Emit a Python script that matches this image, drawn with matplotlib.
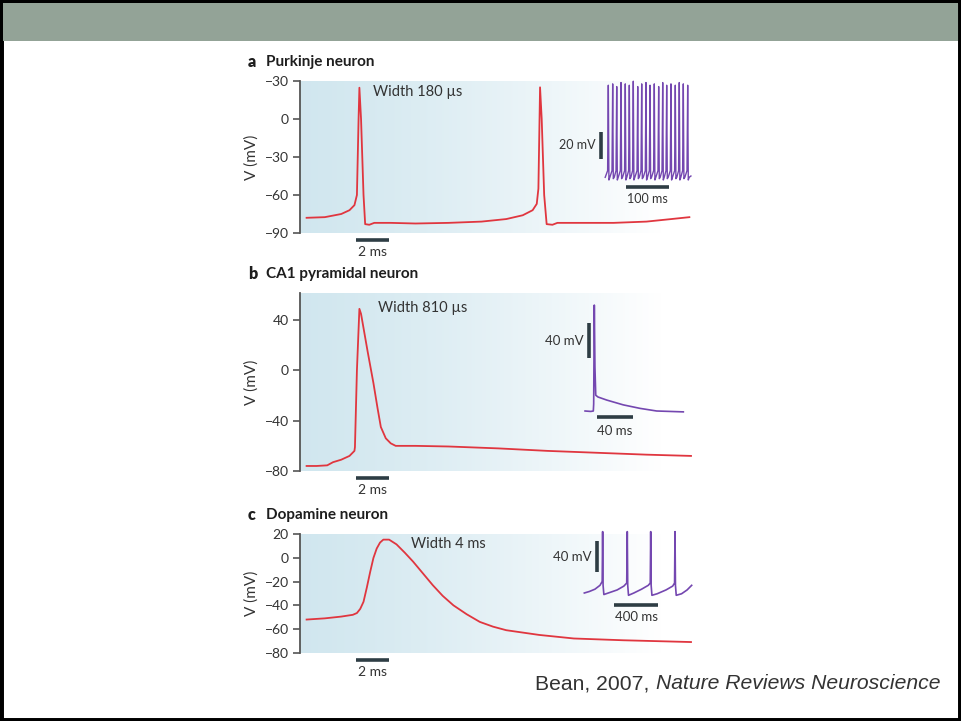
import numpy as np
import matplotlib
matplotlib.use("Agg")
import matplotlib.pyplot as plt
from matplotlib.patches import Rectangle

plt.rcParams['font.family'] = ['Lato', 'DejaVu Sans']

W, H = 961, 721
RED = '#e0363f'
PURPLE = '#7447b0'
BAR = '#2e3d44'
TXT = '#333333'

# ---- main traces (time in ms, voltage in mV) ----
purk_t = [0.4, 1.5, 2.5, 3.0, 3.3, 3.45, 3.55, 3.6, 3.7, 3.85, 3.95, 4.2, 4.5, 5.5, 7.0, 9.0,
          11.0, 12.5, 13.5, 14.1, 14.35, 14.45, 14.55, 14.65, 14.8, 14.95, 15.3, 15.6,
          17.0, 19.0, 21.0, 22.5, 23.6]
purk_v = [-78, -77.5, -75, -72, -68, -60, 0, 24.7, 0, -60, -83, -83.5, -82, -82, -82.5, -82,
          -81, -79, -76, -72, -67, -55, 25, 0, -60, -83, -83.5, -82,
          -82, -82, -81, -79, -77.5]

ca1_t = [0.4, 1.0, 1.65, 2.0, 2.5, 3.0, 3.3, 3.33, 3.45, 3.6, 3.7, 4.1, 4.45, 4.7, 4.9, 5.2,
         5.5, 5.8, 7.0, 9.0, 12.0, 15.0, 18.0, 21.0, 23.7]
ca1_v = [-76, -76, -75.5, -73, -71, -68, -64, -61, 0, 49, 45, 15, -10, -30, -45, -54,
         -58, -60, -60, -60.5, -62, -64, -65.5, -67, -68]

da_t = [0.4, 1.5, 2.5, 3.2, 3.45, 3.65, 3.85, 4.05, 4.25, 4.45, 4.65, 4.85, 5.05, 5.4, 5.85,
        6.35, 6.85, 7.45, 8.05, 8.65, 9.3, 10.1, 10.9, 11.7, 12.5, 14.5, 16.6, 19.6, 23.7]
da_v = [-52, -51, -49.5, -48, -46.5, -43, -37, -25, -12, 0, 8, 13, 15.5, 15.5, 11.5,
        4.5, -3, -13, -23, -32, -40, -47.5, -54, -58, -61, -65, -68, -69.5, -71]

# ---- inset traces ----
purk_spike_t = [19.2, 29.3, 38.6, 48.5, 58.4, 67.7, 76.9, 87.1, 96.3, 106.2, 115.5, 125.4,
                135.5, 144.8, 154.0, 163.9, 173.9, 183.1, 192.4, 202.5]
purk_spike_pk = [-2, -1, -3, 0, -1, -2, 1, -3, -1, 0, -2, -1, -3, 0, -2, -1, -2, 0, -1, -2]
purk_trough = [-73, -72, -73, -72, -73, -72, -73, -72, -72, -73, -72, -73, -72, -73, -72,
               -73, -72, -73, -72, -73]

ca1_in_t = [5.6, 12, 14.8, 15.2, 15.9, 16.6, 17.5, 20, 29.7, 48.1, 66.7, 85.2, 100, 114.8]
ca1_in_v = [-70, -70.5, -70, -62, 51, -20, -52, -54, -57.5, -63, -67, -70, -70.5, -71]

da_in_t = [84, 130, 180, 225, 245, 249, 253, 260, 300, 380, 440, 466, 471, 475, 482, 530,
           600, 660, 678, 682, 686, 693, 740, 820, 880, 897, 901, 905, 912, 960, 1010, 1051]
da_in_v = [-60, -58, -55, -50, -45, 20, -50, -62, -60, -56, -51, -47, 20, -50, -63, -60,
           -55, -50, -47, 20, -50, -63, -61, -56, -51, -47, 20, -50, -63, -61, -56, -50]

yticks_a = [30, 0, -30, -60, -90]
ytlabels_a = ['\u221230', '0', '\u221230', '\u221260', '\u221290']
yticks_b = [40, 0, -40, -80]
yticks_c = [20, 0, -20, -40, -60, -80]


def rect(l, t, r, b):
    return [l / W, 1 - b / H, (r - l) / W, (b - t) / H]


def gradient(ax):
    cols = np.linspace(0, 1, 256)
    c0 = np.array([0.82, 0.905, 0.937])
    w = np.clip(cols / 0.92, 0, 1) ** 1.3
    img = c0[None, :] * (1 - w[:, None]) + np.ones(3)[None, :] * w[:, None]
    ax.imshow(img[None, :, :], extent=[0, 1, 0, 1], transform=ax.transAxes,
              aspect='auto', zorder=0, interpolation='bilinear')


def main_axes(top, bottom, ylim, yticks, ylabels):
    ax = fig.add_axes(rect(300, top, 692, bottom))
    gradient(ax)
    ax.set_xlim(0, 23.76)
    ax.set_ylim(*ylim)
    for s in ['top', 'right', 'bottom']:
        ax.spines[s].set_visible(False)
    ax.spines['left'].set_color('#555555')
    ax.spines['left'].set_linewidth(1.3)
    ax.set_xticks([])
    ax.set_yticks(yticks)
    ax.set_yticklabels(ylabels)
    ax.tick_params(axis='y', length=5, width=1.2, color='#555555', labelsize=10,
                   labelcolor=TXT, pad=3)
    ax.set_ylabel('V (mV)', fontsize=11, color=TXT)
    ax.yaxis.set_label_coords(-0.105, 0.5)
    # 2 ms scale bar below the axes
    yb = ylim[0] - (ylim[1] - ylim[0]) * 7 / (bottom - top)
    yt = ylim[0] - (ylim[1] - ylim[0]) * 19 / (bottom - top)
    ax.plot([3.4, 5.4], [yb, yb], color=BAR, lw=2.6, clip_on=False, solid_capstyle='butt')
    ax.text(4.4, yt, '2 ms', ha='center', va='center', fontsize=10, color=TXT)
    return ax


def inset_axes(l, t, r, b, xlim, ylim):
    ax = fig.add_axes(rect(l, t, r, b))
    ax.set_xlim(*xlim)
    ax.set_ylim(*ylim)
    ax.axis('off')
    ax.patch.set_alpha(0)
    return ax


def panel_title(y, letter, title):
    fig.text(248 / W, 1 - y / H, letter, fontsize=11.5, fontweight='heavy', color='#1e1e1e',
             va='center')
    fig.text(266 / W, 1 - y / H, title, fontsize=11, fontweight='bold', color='#1e1e1e',
             va='center')


fig = plt.figure(figsize=(W / 100, H / 100), dpi=100)

# slide frame and header band
fig.patches.append(Rectangle((0, 0), 1, 1, transform=fig.transFigure, facecolor='white',
                             edgecolor='black', linewidth=5, zorder=-10))
fig.patches.append(Rectangle((3 / W, 1 - 41 / H), 1 - 6 / W, 38 / H, transform=fig.transFigure,
                             facecolor='#93a397', edgecolor='none', zorder=-9))

# ---- panel a ----
ax_a = main_axes(81, 233, (-90, 30), yticks_a, ytlabels_a)
ax_a.plot(purk_t, purk_v, color=RED, lw=1.3, zorder=3)
ax_a.text(4.4, 21, 'Width 180 \u00b5s', fontsize=10.5, color=TXT, va='center')
panel_title(62, 'a', 'Purkinje neuron')

ins_a = inset_axes(600, 78, 695, 193, (0, 95 / 0.433), (-70 - 17 / 1.335, -70 + 98 / 1.335))
ta, va = [12.0], [-71.0]
for t, pk, tr in zip(purk_spike_t, purk_spike_pk, purk_trough):
    ta += [t - 1.6, t, t + 1.4, t + 3.5]
    va += [-66, pk, tr, -71]
ta.append(210)
va.append(-70)
ins_a.plot(ta, va, color=PURPLE, lw=1.0)
ins_a.plot([2.3, 2.3], [-57, -37], color=BAR, lw=2.6, clip_on=False, solid_capstyle='butt')
ins_a.text(-9.5, -47, '20 mV', ha='right', va='center', fontsize=9, color=TXT)
ins_a.plot([59.4, 159.4], [-78.2, -78.2], color=BAR, lw=2.6, clip_on=False, solid_capstyle='butt')
ins_a.text(109.4, -87.5, '100 ms', ha='center', va='center', fontsize=9, color=TXT)

# ---- panel b ----
ax_b = main_axes(293, 471, (-80, 61.6), yticks_b, ['40', '0', '\u221240', '\u221280'])
ax_b.plot(ca1_t, ca1_v, color=RED, lw=1.3, zorder=3)
ax_b.text(4.7, 50, 'Width 810 \u00b5s', fontsize=10.5, color=TXT, va='center')
panel_title(274, 'b', 'CA1 pyramidal neuron')

ins_b = inset_axes(580, 295, 692, 425, (0, 112 / 0.9), (-70 - 14 / 0.875, -70 + 116 / 0.875))
ins_b.plot(ca1_in_t, ca1_in_v, color=PURPLE, lw=1.2)
ins_b.plot([10.3, 10.3], [-10, 30], color=BAR, lw=2.6, clip_on=False, solid_capstyle='butt')
ins_b.text(4.5, 10, '40 mV', ha='right', va='center', fontsize=9.5, color=TXT)
ins_b.plot([18.5, 58.5], [-76.5, -76.5], color=BAR, lw=2.6, clip_on=False, solid_capstyle='butt')
ins_b.text(38.5, -93, '40 ms', ha='center', va='center', fontsize=9.5, color=TXT)

# ---- panel c ----
ax_c = main_axes(534.3, 652.7, (-80, 20), yticks_c,
                 ['20', '0', '\u221220', '\u221240', '\u221260', '\u221280'])
ax_c.plot(da_t, da_v, color=RED, lw=1.3, zorder=3)
ax_c.text(6.75, 12, 'Width 4 ms', fontsize=10.5, color=TXT, va='center')
panel_title(515, 'c', 'Dopamine neuron')

ins_c = inset_axes(575, 525, 692, 615, (0, 117 / 0.111), (-60 - 22 / 0.767, -60 + 68 / 0.767))
ins_c.plot(da_in_t, da_in_v, color=PURPLE, lw=1.2, clip_on=False)
ins_c.plot([196, 196], [-32, 8], color=BAR, lw=2.6, clip_on=False, solid_capstyle='butt')
ins_c.text(150, -13, '40 mV', ha='right', va='center', fontsize=9.5, color=TXT)
ins_c.plot([351, 751], [-75.6, -75.6], color=BAR, lw=2.6, clip_on=False, solid_capstyle='butt')
ins_c.text(551, -91, '400 ms', ha='center', va='center', fontsize=9.5, color=TXT)

# caption
fig.text(940 / W, 1 - 689 / H, 'Bean, 2007, ', fontsize=15.2, family='Liberation Sans',
         color='#333333', ha='right', va='baseline')
cap = fig.text(940 / W, 1 - 689 / H, 'Nature Reviews Neuroscience', fontsize=15.2,
               family='Liberation Sans', style='italic', color='#333333', ha='right',
               va='baseline')
fig.canvas.draw()
bb = cap.get_window_extent()
fig.texts[-2].set_position((bb.x0 / W, 1 - 689 / H))

fig.savefig('out.png', dpi=100)
